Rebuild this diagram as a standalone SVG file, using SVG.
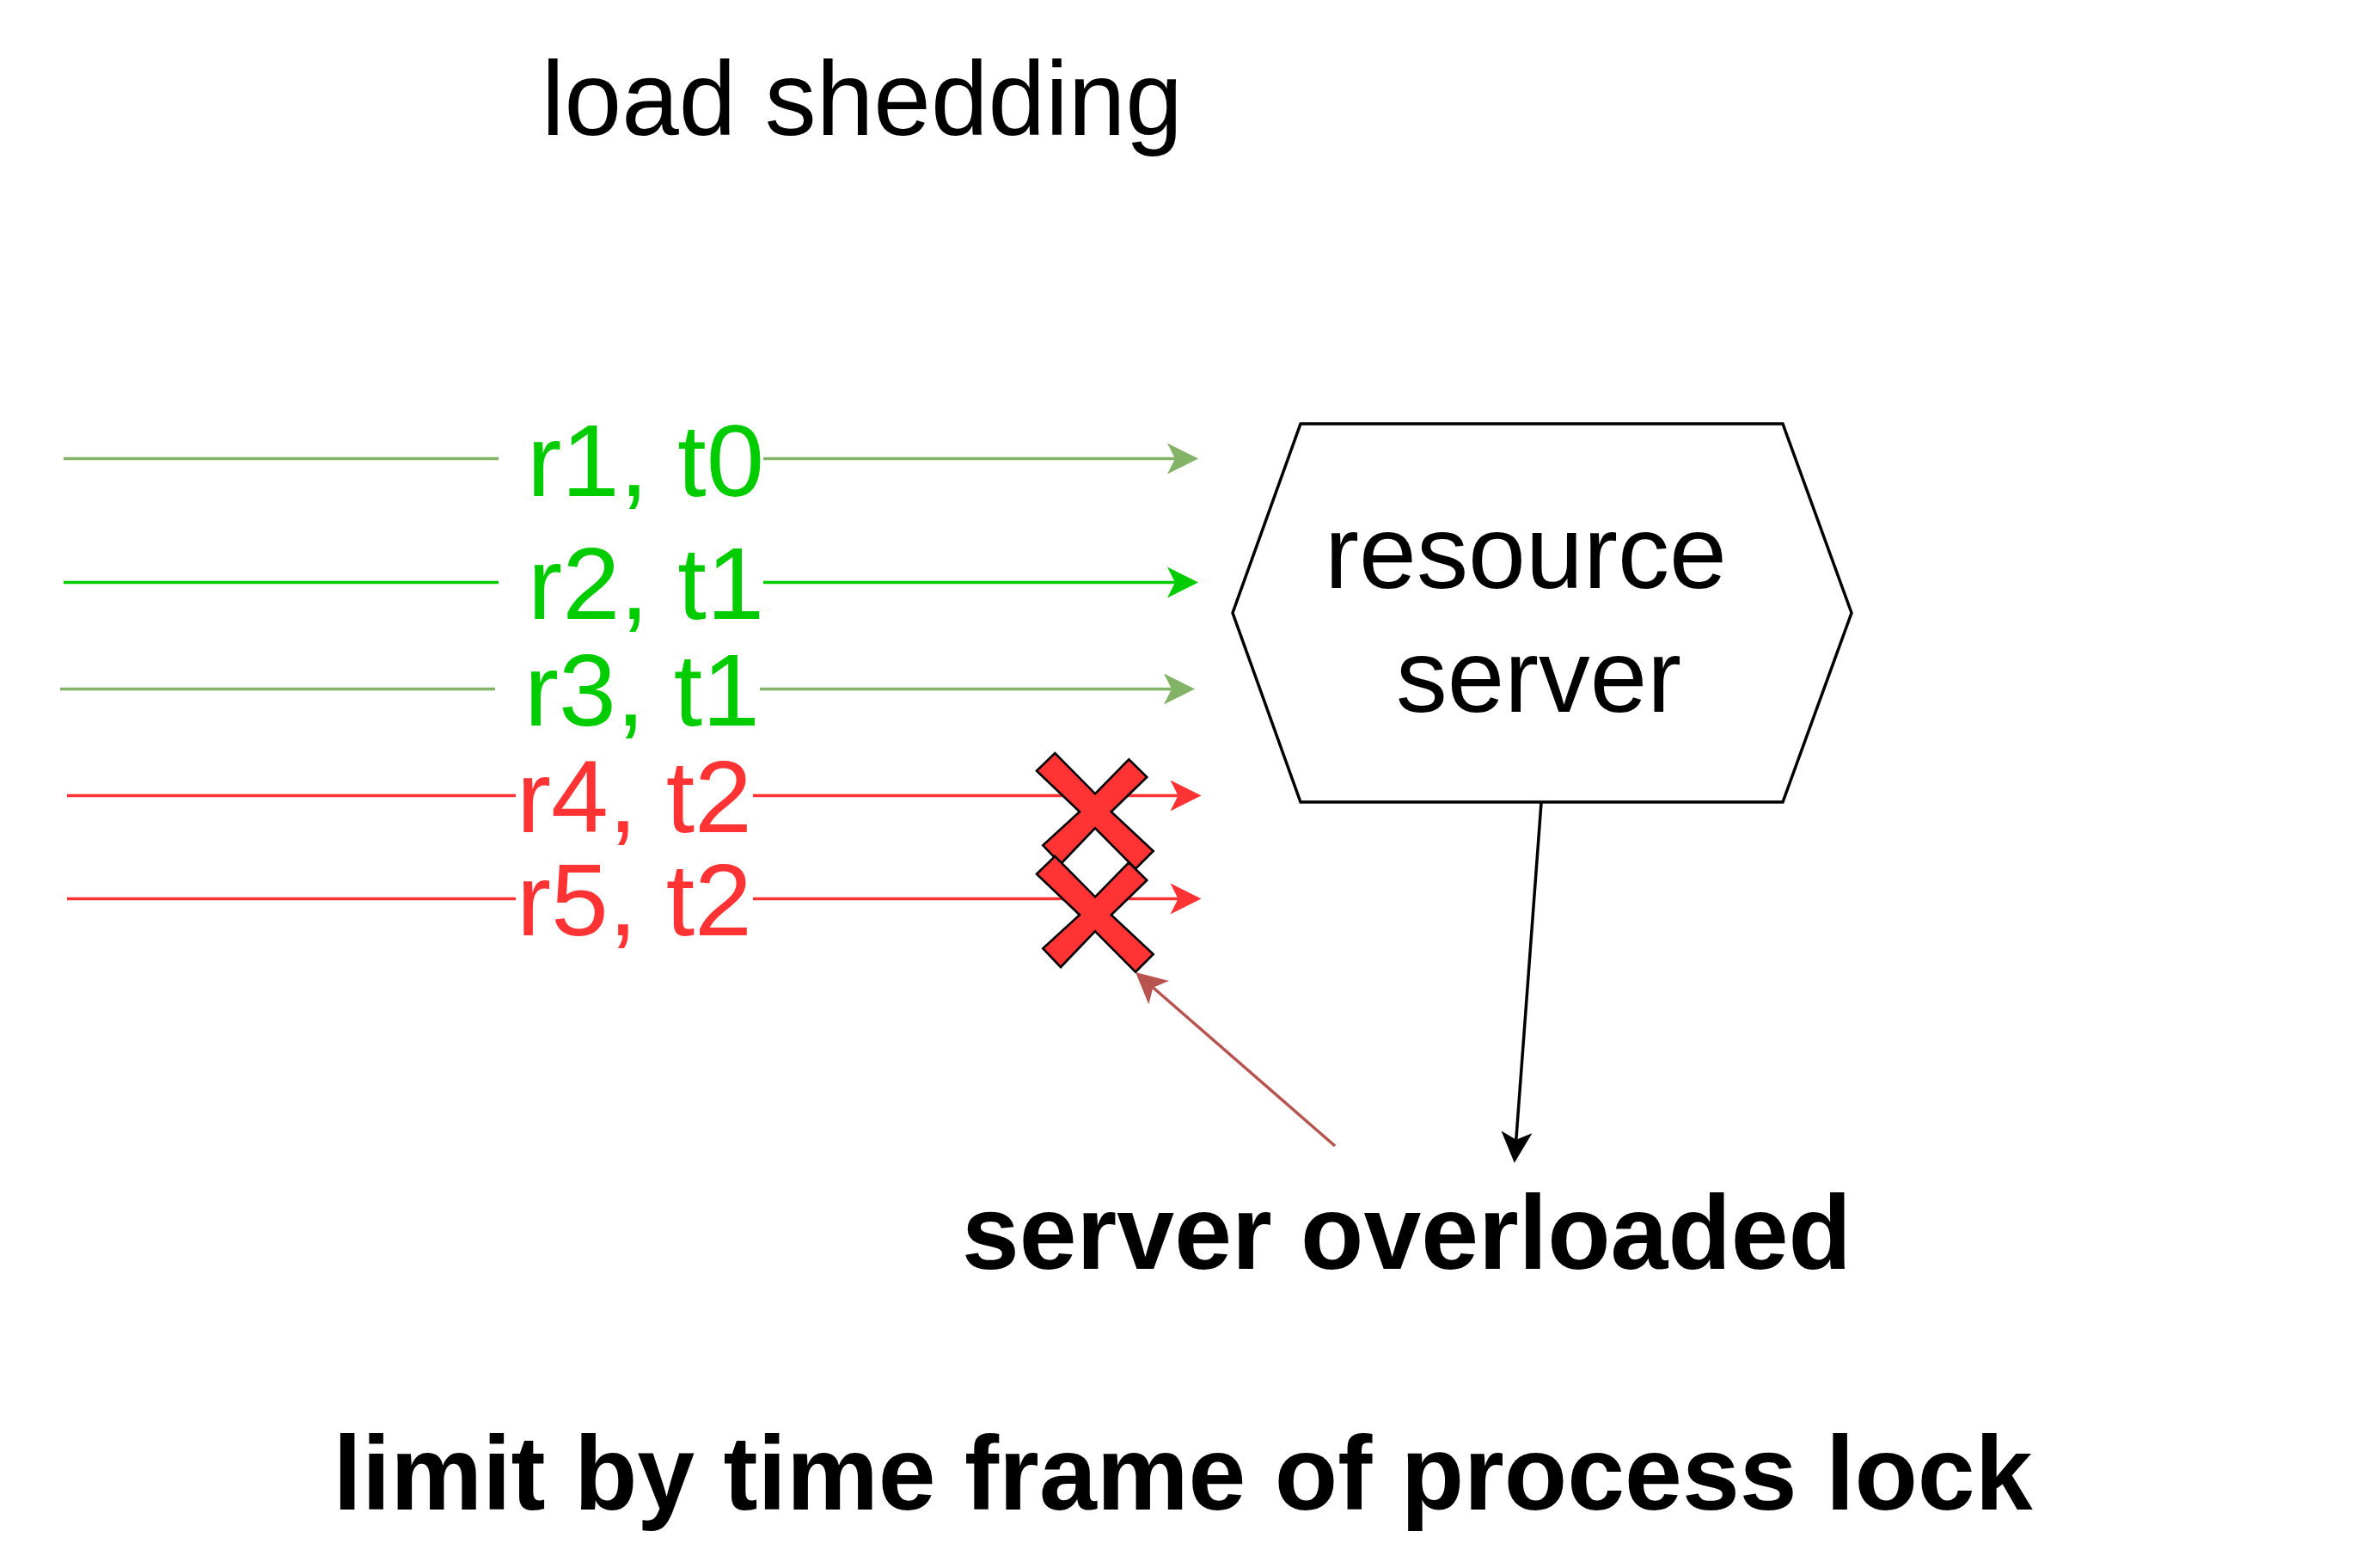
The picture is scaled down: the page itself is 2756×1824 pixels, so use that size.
<svg xmlns="http://www.w3.org/2000/svg" xmlns:xlink="http://www.w3.org/1999/xlink" width="2756" height="1824" viewBox="0 0 2756 1824">
<style>
.t{font-family:"Liberation Sans",Arial,sans-serif;}
.b{font-family:"Liberation Sans",Arial,sans-serif;font-weight:bold;}
.ln{fill:none;stroke-width:3.5;}
.lbl{font-family:"Liberation Sans",Arial,sans-serif;font-size:118px;}
.xs{fill:#FF3333;stroke:#000;stroke-width:2.6;stroke-linejoin:miter;}
</style>
<defs>
<marker id="ag" markerUnits="userSpaceOnUse" orient="auto" markerWidth="40" markerHeight="40" refX="0" refY="0" viewBox="-10 -20 40 40" overflow="visible"><path d="M27,0 L-9,-18 L0,0 L-9,18 Z" fill="#82b366"/></marker>
<marker id="ab" markerUnits="userSpaceOnUse" orient="auto" markerWidth="40" markerHeight="40" refX="0" refY="0" viewBox="-10 -20 40 40" overflow="visible"><path d="M27,0 L-9,-18 L0,0 L-9,18 Z" fill="#00CC00"/></marker>
<marker id="ar" markerUnits="userSpaceOnUse" orient="auto" markerWidth="40" markerHeight="40" refX="0" refY="0" viewBox="-10 -20 40 40" overflow="visible"><path d="M27,0 L-9,-18 L0,0 L-9,18 Z" fill="#FF3333"/></marker>
<marker id="ak" markerUnits="userSpaceOnUse" orient="auto" markerWidth="40" markerHeight="40" refX="0" refY="0" viewBox="-10 -20 40 40" overflow="visible"><path d="M27,0 L-9,-18 L0,0 L-9,18 Z" fill="#000000"/></marker>
<marker id="am" markerUnits="userSpaceOnUse" orient="auto" markerWidth="40" markerHeight="40" refX="0" refY="0" viewBox="-10 -20 40 40" overflow="visible"><path d="M27,0 L-9,-18 L0,0 L-9,18 Z" fill="#b85450"/></marker>
<polygon id="xshape" points="1206,1016.7 1227.3,996 1274,1043.3 1313.3,1003.3 1334.3,1024 1292.7,1064.3 1341.7,1110 1321,1130.7 1274,1083.3 1234,1125 1213.3,1103.3 1256,1064.3"/>
</defs>
<rect width="2756" height="1824" fill="#ffffff"/>

<g id="title">
<text class="t" x="630" y="157" font-size="122" textLength="746" lengthAdjust="spacingAndGlyphs">load shedding</text>
</g>

<g id="node-resource-server">
<polygon points="1513,493 2074,493 2154,713 2074,933 1513,933 1434,713" fill="#ffffff" stroke="#000" stroke-width="3.5"/>
<text class="t" x="1541" y="684" font-size="120" textLength="468" lengthAdjust="spacingAndGlyphs">resource</text>
<text class="t" x="1624" y="828" font-size="120" textLength="332" lengthAdjust="spacingAndGlyphs">server</text>
</g>

<g id="connectors">
<line class="ln" stroke="#82b366" x1="74" y1="533.5" x2="580" y2="533.5"/>
<line class="ln" stroke="#82b366" x1="888" y1="533.5" x2="1367" y2="533.5" marker-end="url(#ag)"/>
<line class="ln" stroke="#00CC00" x1="74" y1="677.5" x2="580" y2="677.5"/>
<line class="ln" stroke="#00CC00" x1="888" y1="677.5" x2="1367" y2="677.5" marker-end="url(#ab)"/>
<line class="ln" stroke="#82b366" x1="70" y1="801.5" x2="576" y2="801.5"/>
<line class="ln" stroke="#82b366" x1="884" y1="801.5" x2="1363" y2="801.5" marker-end="url(#ag)"/>
<line class="ln" stroke="#FF3333" x1="78" y1="925.5" x2="600" y2="925.5"/>
<line class="ln" stroke="#FF3333" x1="876" y1="925.5" x2="1370.5" y2="925.5" marker-end="url(#ar)"/>
<line class="ln" stroke="#FF3333" x1="78" y1="1045.5" x2="600" y2="1045.5"/>
<line class="ln" stroke="#FF3333" x1="876" y1="1045.5" x2="1370.5" y2="1045.5" marker-end="url(#ar)"/>
<line class="ln" stroke="#000000" x1="1793" y1="934" x2="1763.8" y2="1325.8" marker-end="url(#ak)"/>
<line class="ln" stroke="#b85450" x1="1553" y1="1333" x2="1341.4" y2="1148.7" marker-end="url(#am)"/>
</g>

<g id="edge-labels">
<text class="lbl" fill="#00CC00" x="613" y="576.5" textLength="276" lengthAdjust="spacingAndGlyphs">r1, t0</text>
<text class="lbl" fill="#00CC00" x="614" y="719.5" textLength="275" lengthAdjust="spacingAndGlyphs">r2, t1</text>
<text class="lbl" fill="#00CC00" x="610" y="843.5" textLength="274" lengthAdjust="spacingAndGlyphs">r3, t1</text>
<text class="lbl" fill="#FF3333" x="601" y="968" textLength="274" lengthAdjust="spacingAndGlyphs">r4, t2</text>
<text class="lbl" fill="#FF3333" x="601" y="1088" textLength="274" lengthAdjust="spacingAndGlyphs">r5, t2</text>
</g>

<g id="cross-r4">
<use xlink:href="#xshape" class="xs" transform="translate(0,-120)"/>
</g>
<g id="cross-r5">
<use xlink:href="#xshape" class="xs"/>
</g>

<g id="node-server-overloaded">
<text class="b" x="1119" y="1476" font-size="123" textLength="1035" lengthAdjust="spacingAndGlyphs">server overloaded</text>
</g>

<g id="caption">
<text class="b" x="387.5" y="1756" font-size="123" textLength="1977" lengthAdjust="spacingAndGlyphs">limit by time frame of process lock</text>
</g>
</svg>
